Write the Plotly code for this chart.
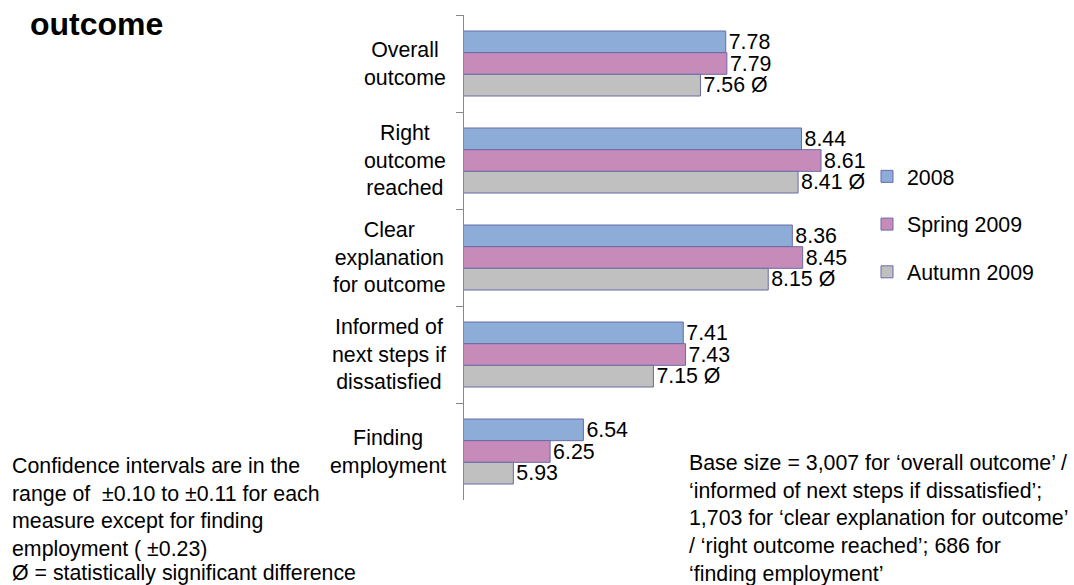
import plotly.graph_objects as go

categories = ["Overall outcome", "Right outcome reached", "Clear explanation for outcome",
              "Informed of next steps if dissatisfied", "Finding employment"]
category_labels = ["Overall<br>outcome", "Right<br>outcome<br>reached", "Clear<br>explanation<br>for outcome",
                   "Informed of<br>next steps if<br>dissatisfied", "Finding<br>employment"]
series_names = ["2008", "Spring 2009", "Autumn 2009"]
values_2008 = [7.78, 8.44, 8.36, 7.41, 6.54]
values_spring2009 = [7.79, 8.61, 8.45, 7.43, 6.25]
values_autumn2009 = [7.56, 8.41, 8.15, 7.15, 5.93]
autumn_significant = [True, True, True, True, False]

W, H = 1074, 585
L, R, T, B = 464, 1064, 15, 500
PX_PER_UNIT = 114.8
X_MIN = 5.5
X_MAX = X_MIN + (R - L) / PX_PER_UNIT
FONT = "Liberation Sans, Arial, sans-serif"
FS = 21.33

colors = ["#8DADD8", "#C68BB9", "#C0C0C0"]
edge = "#6A6AA8"

def px(x):
    return (x - L) / (R - L)

def py(y):
    return (B - y) / (B - T)

series_vals = [values_2008, values_spring2009, values_autumn2009]
fig = go.Figure()
for i, (name, vals) in enumerate(zip(series_names, series_vals)):
    if i == 2:
        txt = [f"{v:.2f}" + (" Ø" if s else "") for v, s in zip(vals, autumn_significant)]
    else:
        txt = [f"{v:.2f}" for v in vals]
    fig.add_trace(go.Bar(
        y=categories, x=vals, orientation="h", name=name,
        marker=dict(color=colors[i], line=dict(color=edge, width=1)),
        text=txt, textposition="outside", constraintext="none", cliponaxis=False,
        textfont=dict(family=FONT, size=FS, color="black"),
        legendgroup=name,
    ))

annotations = []
for cat, lab in zip(categories, category_labels):
    annotations.append(dict(x=0, xref="paper", y=cat, yref="y", text=lab, showarrow=False,
                            xanchor="right", yanchor="middle", align="center", xshift=-16,
                            font=dict(family=FONT, size=FS, color="black")))

annotations.append(dict(x=px(10), xref="paper", y=py(507), yref="paper",
                        text="Confidence intervals are in the<br>range of  ±0.10 to ±0.11 for each<br>"
                             "measure except for finding<br>employment ( ±0.23)",
                        showarrow=False, xanchor="left", yanchor="middle", align="left",
                        font=dict(family=FONT, size=FS, color="black")))
annotations.append(dict(x=px(10), xref="paper", y=py(573), yref="paper",
                        text="Ø = statistically significant difference",
                        showarrow=False, xanchor="left", yanchor="middle", align="left",
                        font=dict(family=FONT, size=FS, color="black")))
annotations.append(dict(x=px(687), xref="paper", y=py(518), yref="paper",
                        text="Base size = 3,007 for ‘overall outcome’ /<br>‘informed of next steps if dissatisfied’;<br>"
                             "1,703 for ‘clear explanation for outcome’<br>/ ‘right outcome reached’; 686 for<br>‘finding employment’",
                        showarrow=False, xanchor="left", yanchor="middle", align="left",
                        font=dict(family=FONT, size=FS, color="black")))

fig.update_layout(
    width=W, height=H,
    margin=dict(l=L, r=W - R, t=T, b=H - B, pad=0),
    paper_bgcolor="white", plot_bgcolor="white",
    barmode="group", bargap=0.33, bargroupgap=0,
    title=dict(text="<b>outcome</b>", x=30 / W, xref="container", xanchor="left",
               y=1 - 24 / H, yref="container", yanchor="middle",
               font=dict(family=FONT, size=32, color="black")),
    xaxis=dict(range=[X_MIN, X_MAX], visible=False, fixedrange=True),
    yaxis=dict(autorange="reversed", showticklabels=False, ticks="outside", ticklen=7,
               tickcolor="#888888", tickson="boundaries", showline=True, linecolor="#888888",
               linewidth=1, showgrid=False, zeroline=False, fixedrange=True),
    legend=dict(x=px(867), xref="paper", y=py(156), yref="paper",
                xanchor="left", yanchor="top", tracegroupgap=17, bgcolor="rgba(0,0,0,0)",
                font=dict(family=FONT, size=FS, color="black")),
    annotations=annotations,
    showlegend=True,
)

fig.write_html("out.html", config={"displayModeBar": False},
               post_script="document.body.style.margin='0';document.body.style.padding='0';")
